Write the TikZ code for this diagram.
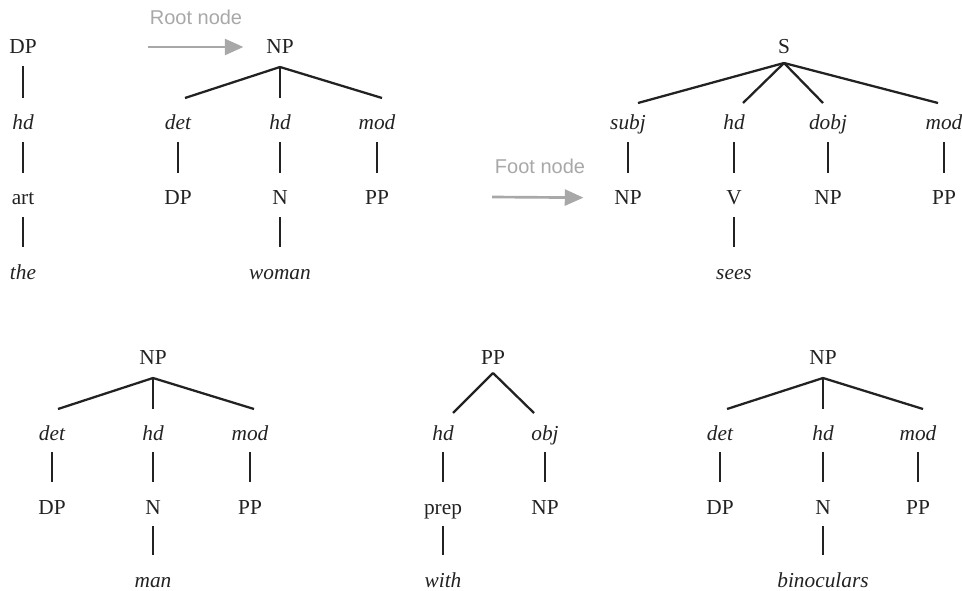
\documentclass[tikz,border=0pt]{standalone}
\usepackage{fontspec}
\setmainfont{Liberation Serif}
\setsansfont{Liberation Sans}
\usepackage{tikz}
\usetikzlibrary{arrows.meta}
\usepackage{xcolor}
\definecolor{ink}{HTML}{222222}
\definecolor{hint}{HTML}{A8A8A8}

\begin{document}
\begin{tikzpicture}[
  x=0.75pt, y=-0.75pt,
  cat/.style={inner sep=0pt, text height=10.5pt, text depth=0pt, text=ink, font=\fontsize{16}{19}\selectfont},
  fn/.style={cat, font=\fontsize{16}{19}\selectfont\itshape},
  edge/.style={draw=ink, line width=1.8pt, shorten <=9pt, shorten >=13pt},
  branch/.style={draw=ink, line width=1.7pt},
  pointer/.style={draw=hint, line width=2pt, -{Triangle[length=14pt, width=12pt]}},
  note/.style={text=hint, font=\sffamily\fontsize{15}{18}\selectfont},
]
  \useasboundingbox (0,0) rectangle (962,591);

  % Initial tree: the
  \node[cat] (dp0) at (23,47) {DP};
  \node[fn] (hd0) at (23,123) {hd};
  \node[cat] (art0) at (23,198) {art};
  \node[fn] (the0) at (23,272) {the};
  \draw[edge] (dp0) -- (hd0);
  \draw[edge] (hd0) -- (art0);
  \draw[edge] (art0) -- (the0);

  % Initial tree: woman
  \node[cat] (np1) at (280,47) {NP};
  \node[fn] (det1) at (178,123) {det};
  \node[fn] (hd1) at (280,123) {hd};
  \node[fn] (mod1) at (377,123) {mod};
  \node[cat] (dp1) at (178,198) {DP};
  \node[cat] (n1) at (280,198) {N};
  \node[cat] (pp1) at (377,198) {PP};
  \node[fn] (woman1) at (280,272) {woman};
  \draw[branch] ([shift={(0,20)}]np1.center) -- ([shift={(7,-25)}]det1.center);
  \draw[branch] ([shift={(0,20)}]np1.center) -- ([shift={(0,-25)}]hd1.center);
  \draw[branch] ([shift={(0,20)}]np1.center) -- ([shift={(5,-25)}]mod1.center);
  \draw[edge] (det1) -- (dp1);
  \draw[edge] (hd1) -- (n1);
  \draw[edge] (mod1) -- (pp1);
  \draw[edge] (n1) -- (woman1);

  \node[note] (rootnote) at (196,17) {Root node};
  \coordinate (roottail) at (148,47);
  \draw[pointer, shorten >=17pt] (roottail) -- (np1);

  % Initial tree: sees
  \node[cat] (s2) at (784,47) {S};
  \node[fn] (subj2) at (628,123) {subj};
  \node[fn] (hd2) at (734,123) {hd};
  \node[fn] (dobj2) at (828,123) {dobj};
  \node[fn] (mod2) at (944,123) {mod};
  \node[cat] (np2a) at (628,198) {NP};
  \node[cat] (v2) at (734,198) {V};
  \node[cat] (np2b) at (828,198) {NP};
  \node[cat] (pp2) at (944,198) {PP};
  \node[fn] (sees2) at (734,272) {sees};
  \draw[branch] ([shift={(0,16)}]s2.center) -- ([shift={(10,-20)}]subj2.center);
  \draw[branch] ([shift={(0,16)}]s2.center) -- ([shift={(9,-20)}]hd2.center);
  \draw[branch] ([shift={(0,16)}]s2.center) -- ([shift={(-5,-20)}]dobj2.center);
  \draw[branch] ([shift={(0,16)}]s2.center) -- ([shift={(-6,-20)}]mod2.center);
  \draw[edge] (subj2) -- (np2a);
  \draw[edge] (hd2) -- (v2);
  \draw[edge] (dobj2) -- (np2b);
  \draw[edge] (mod2) -- (pp2);
  \draw[edge] (v2) -- (sees2);

  \node[note] (footnote) at (540,166) {Foot node};
  \coordinate (foottail) at (492,197);
  \draw[pointer, shorten >=23pt] (foottail) -- (np2a);

  % Auxiliary tree: man
  \node[cat] (np3) at (153,357) {NP};
  \node[fn] (det3) at (52,433) {det};
  \node[fn] (hd3) at (153,433) {hd};
  \node[fn] (mod3) at (250,433) {mod};
  \node[cat] (dp3) at (52,507) {DP};
  \node[cat] (n3) at (153,507) {N};
  \node[cat] (pp3) at (250,507) {PP};
  \node[fn] (man3) at (153,580) {man};
  \draw[branch] ([shift={(0,21)}]np3.center) -- ([shift={(6,-24)}]det3.center);
  \draw[branch] ([shift={(0,21)}]np3.center) -- ([shift={(0,-24)}]hd3.center);
  \draw[branch] ([shift={(0,21)}]np3.center) -- ([shift={(4,-24)}]mod3.center);
  \draw[edge] (det3) -- (dp3);
  \draw[edge] (hd3) -- (n3);
  \draw[edge] (mod3) -- (pp3);
  \draw[edge] (n3) -- (man3);

  % Auxiliary tree: with
  \node[cat] (pp4) at (493,357) {PP};
  \node[fn] (hd4) at (443,433) {hd};
  \node[fn] (obj4) at (545,433) {obj};
  \node[cat] (prep4) at (443,507) {prep};
  \node[cat] (np4) at (545,507) {NP};
  \node[fn] (with4) at (443,580) {with};
  \draw[branch] ([shift={(0,16)}]pp4.center) -- ([shift={(10,-20)}]hd4.center);
  \draw[branch] ([shift={(0,16)}]pp4.center) -- ([shift={(-11,-20)}]obj4.center);
  \draw[edge] (hd4) -- (prep4);
  \draw[edge] (obj4) -- (np4);
  \draw[edge] (prep4) -- (with4);

  % Auxiliary tree: binoculars
  \node[cat] (np5) at (823,357) {NP};
  \node[fn] (det5) at (720,433) {det};
  \node[fn] (hd5) at (823,433) {hd};
  \node[fn] (mod5) at (918,433) {mod};
  \node[cat] (dp5) at (720,507) {DP};
  \node[cat] (n5) at (823,507) {N};
  \node[cat] (pp5) at (918,507) {PP};
  \node[fn] (bino5) at (823,580) {binoculars};
  \draw[branch] ([shift={(0,21)}]np5.center) -- ([shift={(7,-24)}]det5.center);
  \draw[branch] ([shift={(0,21)}]np5.center) -- ([shift={(0,-24)}]hd5.center);
  \draw[branch] ([shift={(0,21)}]np5.center) -- ([shift={(5,-24)}]mod5.center);
  \draw[edge] (det5) -- (dp5);
  \draw[edge] (hd5) -- (n5);
  \draw[edge] (mod5) -- (pp5);
  \draw[edge] (n5) -- (bino5);
\end{tikzpicture}
\end{document}
